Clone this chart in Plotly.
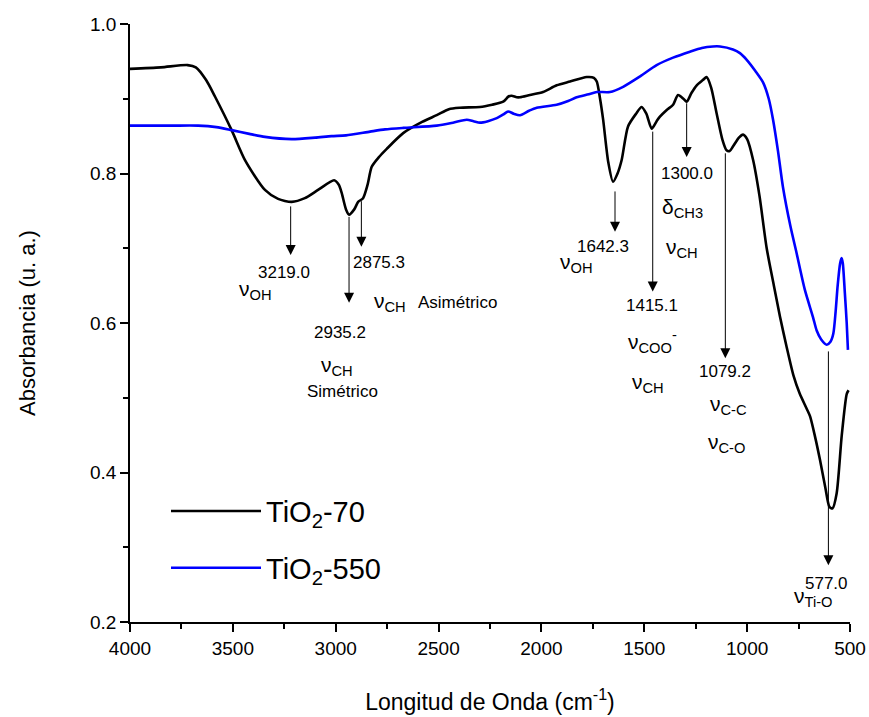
import plotly.graph_objects as go

# ---------------- data ----------------
wn_70 = [4000, 3850, 3720, 3680, 3630, 3587, 3506, 3441, 3344, 3280, 3214, 3150, 3086, 3008,
         2985, 2971, 2950, 2935, 2910, 2891, 2867, 2845, 2825, 2790, 2752, 2672, 2580, 2509,
         2450, 2396, 2299, 2240, 2186, 2160, 2145, 2120, 2104, 2056, 1992, 1926, 1861, 1780,
         1745, 1731, 1715, 1700, 1675, 1652, 1630, 1610, 1579, 1540, 1513, 1490, 1464, 1440,
         1424, 1391, 1360, 1336, 1310, 1294, 1270, 1245, 1215, 1197, 1175, 1148, 1120, 1100,
         1085, 1069, 1040, 1020, 1000, 971, 940, 905, 870, 840, 808, 775, 745, 710, 694, 670,
         646, 620, 600, 585, 565, 540, 516, 507]
abs_70 = [0.940, 0.942, 0.945, 0.942, 0.925, 0.903, 0.858, 0.818, 0.778, 0.766, 0.762, 0.767,
          0.778, 0.791, 0.785, 0.774, 0.752, 0.745, 0.752, 0.762, 0.767, 0.785, 0.809, 0.822,
          0.833, 0.854, 0.869, 0.878, 0.886, 0.888, 0.889, 0.892, 0.896, 0.903, 0.904, 0.902,
          0.902, 0.905, 0.909, 0.918, 0.923, 0.929, 0.928, 0.923, 0.900, 0.872, 0.815, 0.789,
          0.800, 0.818, 0.863, 0.880, 0.889, 0.880, 0.860, 0.870, 0.876, 0.885, 0.892, 0.905,
          0.900, 0.896, 0.908, 0.918, 0.925, 0.929, 0.915, 0.880, 0.845, 0.831, 0.830, 0.836,
          0.848, 0.852, 0.846, 0.818, 0.770, 0.700, 0.650, 0.608, 0.568, 0.530, 0.506, 0.485,
          0.475, 0.448, 0.417, 0.380, 0.354, 0.352, 0.372, 0.450, 0.505, 0.510]

wn_550 = [4000, 3800, 3669, 3580, 3506, 3420, 3344, 3214, 3100, 3020, 2950, 2833, 2760, 2672,
          2509, 2430, 2363, 2330, 2299, 2260, 2217, 2185, 2162, 2135, 2104, 2060, 2023, 1926,
          1870, 1829, 1770, 1731, 1667, 1603, 1520, 1440, 1360, 1278, 1220, 1166, 1132, 1069,
          1035, 1002, 960, 921, 895, 874, 850, 826, 790, 760, 720, 680, 662, 640, 613, 595,
          581, 570, 560, 548, 541, 535, 525, 516, 510]
abs_550 = [0.864, 0.864, 0.864, 0.862, 0.858, 0.853, 0.849, 0.846, 0.848, 0.850, 0.851, 0.856,
           0.859, 0.861, 0.864, 0.868, 0.872, 0.870, 0.868, 0.870, 0.874, 0.879, 0.883, 0.880,
           0.878, 0.884, 0.888, 0.892, 0.897, 0.902, 0.906, 0.909, 0.909, 0.916, 0.930, 0.945,
           0.955, 0.963, 0.968, 0.970, 0.970, 0.966, 0.961, 0.952, 0.937, 0.921, 0.900, 0.872,
           0.830, 0.782, 0.730, 0.694, 0.645, 0.608, 0.590, 0.578, 0.571, 0.575, 0.586, 0.615,
           0.650, 0.680, 0.687, 0.680, 0.640, 0.600, 0.564]

series_names = ["TiO<sub>2</sub>-70", "TiO<sub>2</sub>-550"]

# peak labels and where their arrows point (wavenumber, arrow start, arrow end)
peak_labels = ["3219.0", "2935.2", "2875.3", "1642.3", "1415.1", "1300.0", "1079.2", "577.0"]
arrow_x = [3219.0, 2935.2, 2875.3, 1642.3, 1459.0, 1294.0, 1106.0, 605.0]
arrow_from = [0.758, 0.744, 0.765, 0.778, 0.858, 0.896, 0.829, 0.564]
arrow_to = [0.691, 0.627, 0.702, 0.722, 0.642, 0.822, 0.553, 0.276]
label_pos = [(3251, 0.668), (2979, 0.587), (2790, 0.681), (1699, 0.703),
             (1464, 0.624), (1291, 0.800), (1108, 0.535), (613, 0.252)]

# band assignment texts
band_texts = [
    ("ν<sub>OH</sub>", 3392, 0.644),
    ("ν<sub>CH</sub>", 2995, 0.542),
    ("ν<sub>CH</sub>", 2736, 0.628),
    ("ν<sub>OH</sub>", 1829, 0.680),
    ("ν<sub>COO</sub><sup>-</sup>", 1458, 0.575),
    ("ν<sub>CH</sub>", 1482, 0.520),
    ("δ<sub>CH3</sub>", 1312, 0.754),
    ("ν<sub>CH</sub>", 1318, 0.700),
    ("ν<sub>C-C</sub>", 1093, 0.490),
    ("ν<sub>C-O</sub>", 1099, 0.439),
    ("ν<sub>Ti-O</sub>", 678, 0.234),
]
word_texts = [("Simétrico", 2965, 0.509), ("Asimétrico", 2410, 0.627)]

FONT = "Liberation Sans, Arial, sans-serif"

fig = go.Figure()
fig.add_trace(go.Scatter(x=wn_70, y=abs_70, mode="lines", name=series_names[0], legendgroup="g70",
                         line=dict(color="black", width=2.6, shape="spline", smoothing=0.7)))
fig.add_trace(go.Scatter(x=wn_550, y=abs_550, mode="lines", name=series_names[1], legendgroup="g550",
                         line=dict(color="#0000FF", width=2.6, shape="spline", smoothing=0.7)))

ann = []
for x, y0, y1 in zip(arrow_x, arrow_from, arrow_to):
    ann.append(dict(x=x, y=y1, ax=x, ay=y0, xref="x", yref="y", axref="x", ayref="y",
                    text="", showarrow=True, arrowhead=2, arrowsize=2.0, arrowwidth=1,
                    arrowcolor="black", standoff=0, startstandoff=0))
for t, (x, y) in zip(peak_labels, label_pos):
    ann.append(dict(x=x, y=y, xref="x", yref="y", text=t, showarrow=False,
                    font=dict(family=FONT, size=17, color="black")))
for t, x, y in band_texts:
    ann.append(dict(x=x, y=y, xref="x", yref="y", text=t, showarrow=False,
                    font=dict(family=FONT, size=21, color="black")))
for t, x, y in word_texts:
    ann.append(dict(x=x, y=y, xref="x", yref="y", text=t, showarrow=False,
                    font=dict(family=FONT, size=17, color="black")))

fig.update_layout(
    width=869, height=717,
    margin=dict(l=130, r=19, t=24, b=95),
    paper_bgcolor="white", plot_bgcolor="white",
    font=dict(family=FONT, color="black"),
    showlegend=True,
    legend=dict(x=0.05, y=0.228, xanchor="left", yanchor="top",
                font=dict(family=FONT, size=29, color="black"),
                bgcolor="rgba(0,0,0,0)", itemwidth=90, tracegroupgap=16),
    annotations=ann,
)
fig.update_xaxes(
    automargin=False,
    range=[4000, 500], tickmode="array", tickvals=[4000, 3500, 3000, 2500, 2000, 1500, 1000, 500],
    ticks="outside", ticklen=8, tickwidth=1.5, tickcolor="black",
    showline=True, linecolor="black", linewidth=1.5, mirror=False,
    showgrid=False, zeroline=False,
    tickfont=dict(family=FONT, size=19, color="black"),
    minor=dict(ticks="outside", ticklen=5, tickwidth=1.5, tickcolor="black", dtick=250, showgrid=False),
    title=dict(text="Longitud de Onda (cm<sup>-1</sup>)", font=dict(family=FONT, size=23, color="black"),
               standoff=36),
)
fig.update_yaxes(
    automargin=False,
    range=[0.2, 1.0], tickmode="array", tickvals=[0.2, 0.4, 0.6, 0.8, 1.0],
    ticktext=["0.2", "0.4", "0.6", "0.8", "1.0"],
    ticks="outside", ticklen=8, tickwidth=1.5, tickcolor="black",
    showline=True, linecolor="black", linewidth=1.5, mirror=False,
    showgrid=False, zeroline=False,
    tickfont=dict(family=FONT, size=19, color="black"),
    minor=dict(ticks="outside", ticklen=5, tickwidth=1.5, tickcolor="black", dtick=0.1, showgrid=False),
    title=dict(text="Absorbancia (u. a.)", font=dict(family=FONT, size=22, color="black"), standoff=48),
)

fig.write_html("out.html")
